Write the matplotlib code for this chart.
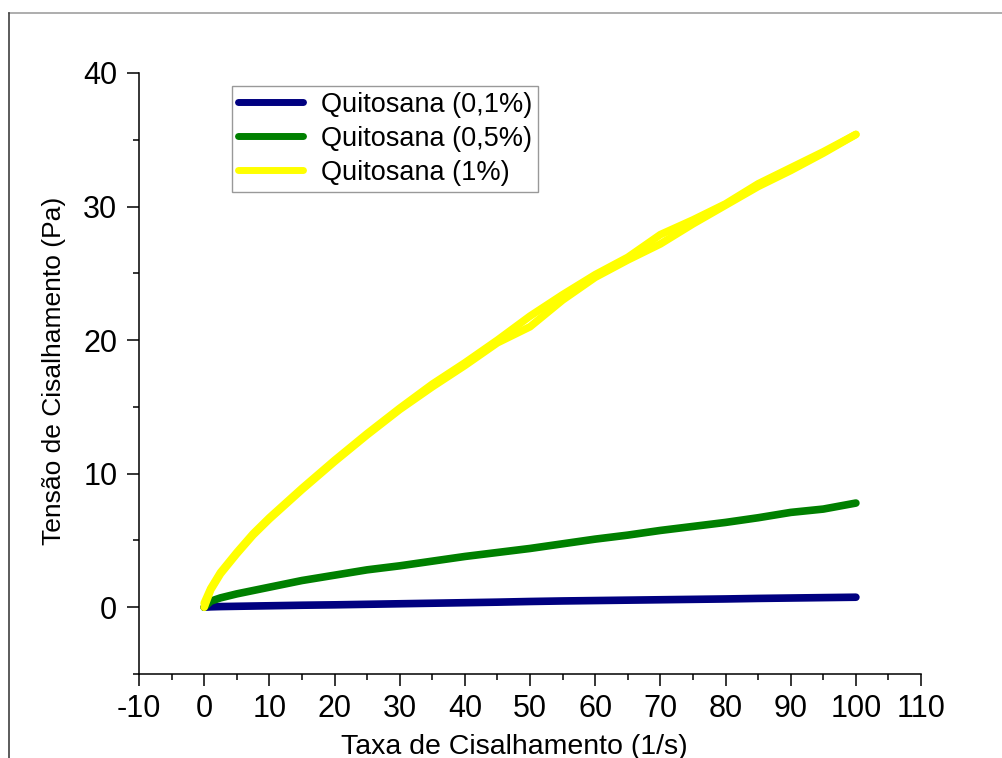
import matplotlib
matplotlib.use("Agg")
import matplotlib.pyplot as plt
from matplotlib.ticker import MultipleLocator
from matplotlib.lines import Line2D

plt.rcParams['font.family'] = ['Liberation Sans', 'DejaVu Sans']
plt.rcParams['axes.unicode_minus'] = False

# taxa de cisalhamento (1/s)
taxa = [0, 1, 2.5, 5, 7.5, 10, 15, 20, 25, 30, 35, 40, 45, 50,
        55, 60, 65, 70, 75, 80, 85, 90, 95, 100]

# tensao de cisalhamento (Pa)
quit_01 = [0.0, 0.03, 0.05, 0.07, 0.09, 0.11, 0.15, 0.18, 0.22, 0.26, 0.30, 0.34,
           0.38, 0.43, 0.47, 0.50, 0.53, 0.56, 0.59, 0.62, 0.66, 0.69, 0.72, 0.75]
quit_05 = [0.0, 0.45, 0.7, 1.0, 1.25, 1.5, 2.0, 2.4, 2.8, 3.1, 3.45, 3.8,
           4.1, 4.4, 4.75, 5.1, 5.4, 5.75, 6.05, 6.35, 6.7, 7.1, 7.35, 7.8]
quit_1_subida = [0.0, 1.3, 2.5, 4.0, 5.4, 6.6, 8.8, 10.9, 12.9, 14.8, 16.5, 18.1,
                 19.8, 21.0, 23.0, 24.7, 26.0, 27.2, 28.7, 30.1, 31.5, 32.7, 34.0, 35.4]
quit_1_descida = [0.3, 1.4, 2.6, 4.1, 5.5, 6.7, 8.9, 11.0, 13.0, 14.9, 16.7, 18.3,
                  20.0, 21.8, 23.4, 24.9, 26.2, 27.9, 29.0, 30.2, 31.7, 32.9, 34.1, 35.4]

labels = ['Quitosana (0,1%)', 'Quitosana (0,5%)', 'Quitosana (1%)']
cores = ['#000080', '#008000', '#FFFF00']

fig = plt.figure(figsize=(10.03, 7.58), dpi=100)
ax = fig.add_axes([0.1386, 0.1108, 0.7797, 0.7929])

lw = 5.5
ax.plot(taxa, quit_01, color=cores[0], lw=lw, solid_capstyle='round', solid_joinstyle='round')
ax.plot(taxa, quit_05, color=cores[1], lw=lw, solid_capstyle='round', solid_joinstyle='round')
ax.plot(taxa, quit_1_subida, color=cores[2], lw=lw, solid_capstyle='round', solid_joinstyle='round')
ax.plot(taxa, quit_1_descida, color=cores[2], lw=lw, solid_capstyle='round', solid_joinstyle='round')

ax.set_xlim(-10, 110)
ax.set_ylim(-5, 40)
ax.xaxis.set_major_locator(MultipleLocator(10))
ax.xaxis.set_minor_locator(MultipleLocator(5))
ax.set_yticks([0, 10, 20, 30, 40])
ax.yaxis.set_minor_locator(MultipleLocator(5))

ax.spines['top'].set_visible(False)
ax.spines['right'].set_visible(False)
for s in ['left', 'bottom']:
    ax.spines[s].set_linewidth(1.1)

ax.tick_params(which='major', direction='out', length=8.6, width=1.1, labelsize=22)
ax.tick_params(axis='x', which='major', pad=5.5)
ax.tick_params(axis='y', which='major', pad=7)
ax.tick_params(which='minor', direction='out', length=4.3, width=1.1)

ax.set_xlabel('Taxa de Cisalhamento (1/s)', fontsize=20.5)
ax.set_ylabel('Tensão de Cisalhamento (Pa)', fontsize=19)
ax.xaxis.set_label_coords(0.48, -0.1)
ax.yaxis.set_label_coords(-0.093, 0.505)

handles = [Line2D([], [], color=c, lw=5, solid_capstyle='round') for c in cores]
leg = ax.legend(handles, labels, loc='upper left', bbox_to_anchor=(0.119, 0.979),
                borderaxespad=0, fontsize=19.5, frameon=True, fancybox=False,
                borderpad=0.22, labelspacing=0.3, handlelength=2.4, handletextpad=0.65)
leg.get_frame().set_edgecolor('#808080')
leg.get_frame().set_linewidth(1.0)

# moldura da figura
fig.add_artist(Line2D([0.009, 1.0], [0.983, 0.983], transform=fig.transFigure, color='#a0a0a0', lw=1.2))
fig.add_artist(Line2D([0.009, 0.009], [0.0, 0.983], transform=fig.transFigure, color='#404040', lw=1.2))

fig.savefig('out.png', dpi=100)
